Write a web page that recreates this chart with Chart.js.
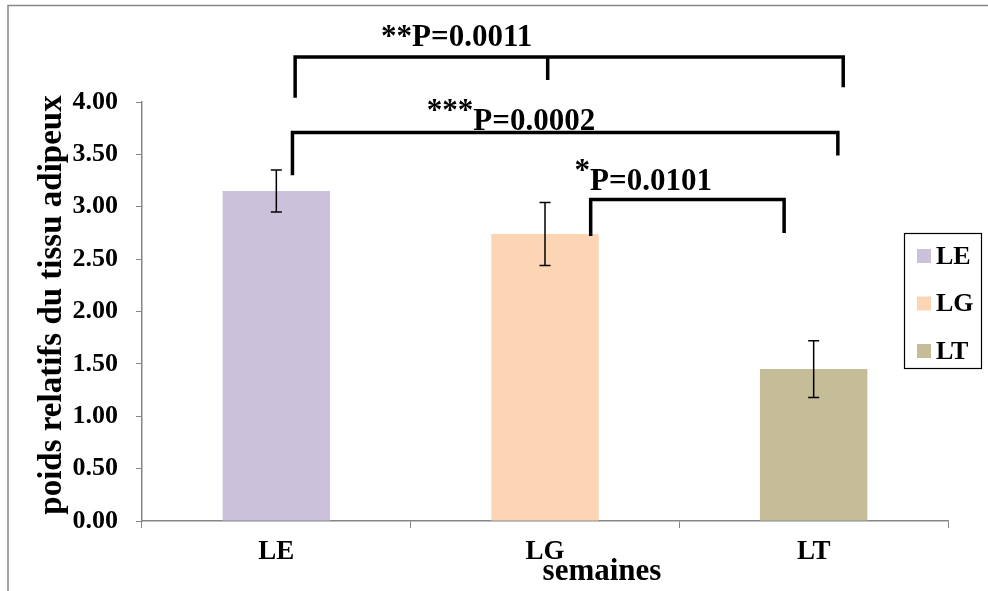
<!DOCTYPE html>
<html>
<head>
<meta charset="utf-8">
<script src="https://cdn.jsdelivr.net/npm/chart.js@4.4.1/dist/chart.umd.min.js"></script>
<style>
  body { margin: 0; background: #fff; }
  #wrap { position: relative; width: 988px; height: 591px; }
</style>
</head>
<body>
<div id="wrap"><canvas id="barChart" width="988" height="591"></canvas></div>
<script>
// data
const categories = ['LE', 'LG', 'LT'];
const means = [3.15, 2.74, 1.45];
const errors = [0.20, 0.30, 0.27];
const barColors = ['#CCC1DA', '#FCD5B5', '#C4BD97'];
const yMin = 0;
const yMax = 4;
const yStep = 0.5;

// significance brackets (x in category units, y in data units)
const brackets = [
    { x1: 0.07, x2: 2.11, y: 4.43, leg1: 4.04, leg2: 4.14, midX: 1.01, midY: 4.21, stars: '**', label: 'P=0.0011', tx: 0.39, ty: 4.61, raise: 0 },
    { x1: 0.06, x2: 2.09, y: 3.71, leg1: 3.30, leg2: 3.49, stars: '***', label: 'P=0.0002', tx: 0.56, ty: 3.81, raise: 10 },
    { x1: 1.17, x2: 1.89, y: 3.07, leg1: 2.72, leg2: 2.75, stars: '*', label: 'P=0.0101', tx: 1.11, ty: 3.24, raise: 10 }
];

const serif = '"Liberation Serif", "Times New Roman", serif';

function catX(scale, v) {
    const i = Math.floor(v);
    const a = scale.getPixelForValue(i);
    const step = scale.getPixelForValue(1) - scale.getPixelForValue(0);
    return a + (v - i) * step;
}

// error bars, brackets, titles, legend, frame
const extras = {
    id: 'extras',
    afterDatasetsDraw(chart) {
        const ctx = chart.ctx;
        const x = chart.scales.x;
        const y = chart.scales.y;

        // error bars
        ctx.save();
        ctx.strokeStyle = '#000';
        ctx.lineWidth = 1.5;
        means.forEach((m, i) => {
            const px = x.getPixelForValue(i);
            const top = y.getPixelForValue(m + errors[i]);
            const bot = y.getPixelForValue(m - errors[i]);
            ctx.beginPath();
            ctx.moveTo(px, top); ctx.lineTo(px, bot);
            ctx.moveTo(px - 5.5, top); ctx.lineTo(px + 5.5, top);
            ctx.moveTo(px - 5.5, bot); ctx.lineTo(px + 5.5, bot);
            ctx.stroke();
        });
        ctx.restore();

        // brackets
        ctx.save();
        ctx.strokeStyle = '#000';
        ctx.lineWidth = 3.5;
        ctx.lineCap = 'butt';
        brackets.forEach(b => {
            const xa = catX(x, b.x1), xb = catX(x, b.x2);
            const yy = y.getPixelForValue(b.y);
            ctx.beginPath();
            ctx.moveTo(xa, y.getPixelForValue(b.leg1));
            ctx.lineTo(xa, yy);
            ctx.lineTo(xb, yy);
            ctx.lineTo(xb, y.getPixelForValue(b.leg2));
            if (b.midX !== undefined) {
                ctx.moveTo(catX(x, b.midX), yy);
                ctx.lineTo(catX(x, b.midX), y.getPixelForValue(b.midY));
            }
            ctx.stroke();

            // label, stars raised on some
            let tx = catX(x, b.tx);
            const ty = y.getPixelForValue(b.ty);
            ctx.fillStyle = '#000';
            ctx.textBaseline = 'middle';
            ctx.textAlign = 'left';
            ctx.font = 'bold 31px ' + serif;
            ctx.fillText(b.stars, tx, ty - b.raise);
            tx += ctx.measureText(b.stars).width;
            ctx.fillText(b.label, tx, ty);
        });
        ctx.restore();

        // axis titles
        ctx.save();
        ctx.fillStyle = '#000';
        ctx.textAlign = 'center';
        ctx.textBaseline = 'middle';
        ctx.font = 'bold 33px ' + serif;
        ctx.translate(52, 305);
        ctx.rotate(-Math.PI / 2);
        ctx.fillText('poids relatifs du tissu adipeux', 0, 0);
        ctx.restore();

        ctx.save();
        ctx.fillStyle = '#000';
        ctx.textAlign = 'center';
        ctx.textBaseline = 'middle';
        ctx.font = 'bold 31px ' + serif;
        ctx.fillText('semaines', 602, 572);
        ctx.restore();

        // legend
        ctx.save();
        ctx.fillStyle = '#fff';
        ctx.fillRect(904, 233, 77, 135);
        ctx.strokeStyle = '#000';
        ctx.lineWidth = 1.2;
        ctx.strokeRect(904.5, 233.5, 77, 135);
        ctx.font = 'bold 26px ' + serif;
        ctx.textBaseline = 'middle';
        ctx.textAlign = 'left';
        categories.forEach((c, i) => {
            const cy = 256 + i * 47.5;
            ctx.fillStyle = barColors[i];
            ctx.fillRect(917, cy - 7, 14, 14);
            ctx.fillStyle = '#000';
            ctx.fillText(c, 936, cy + 1);
        });
        ctx.restore();

        // outer frame
        ctx.save();
        ctx.strokeStyle = '#888';
        ctx.lineWidth = 1.5;
        ctx.beginPath();
        ctx.moveTo(8, 600);
        ctx.lineTo(8, 5.5);
        ctx.lineTo(1000, 5.5);
        ctx.stroke();
        ctx.restore();
    }
};

new Chart(document.getElementById('barChart').getContext('2d'), {
    type: 'bar',
    data: {
        labels: categories,
        datasets: [{
            label: 'poids',
            data: means,
            backgroundColor: barColors,
            borderWidth: 0,
            categoryPercentage: 1,
            barPercentage: 0.4
        }]
    },
    options: {
        responsive: false,
        animation: false,
        layout: { padding: { top: 102, right: 40, left: 0, bottom: 0 } },
        plugins: { legend: { display: false }, tooltip: { enabled: false } },
        scales: {
            x: {
                offset: true,
                grid: { offset: true, drawOnChartArea: false, color: '#868686', tickLength: 7 },
                border: { color: '#868686', width: 1.5 },
                ticks: { color: '#000', font: { family: serif, size: 27, weight: 'bold' }, padding: 8 },
                afterFit(s) { s.height = 70; }
            },
            y: {
                min: yMin,
                max: yMax,
                grid: { drawOnChartArea: false, color: '#868686', tickLength: 6 },
                border: { color: '#868686', width: 1.5 },
                ticks: {
                    stepSize: yStep,
                    color: '#000',
                    padding: 18,
                    font: { family: serif, size: 26, weight: 'bold' },
                    callback: v => v.toFixed(2)
                },
                afterFit(s) { s.width = 142; }
            }
        }
    },
    plugins: [extras]
});
</script>
</body>
</html>
